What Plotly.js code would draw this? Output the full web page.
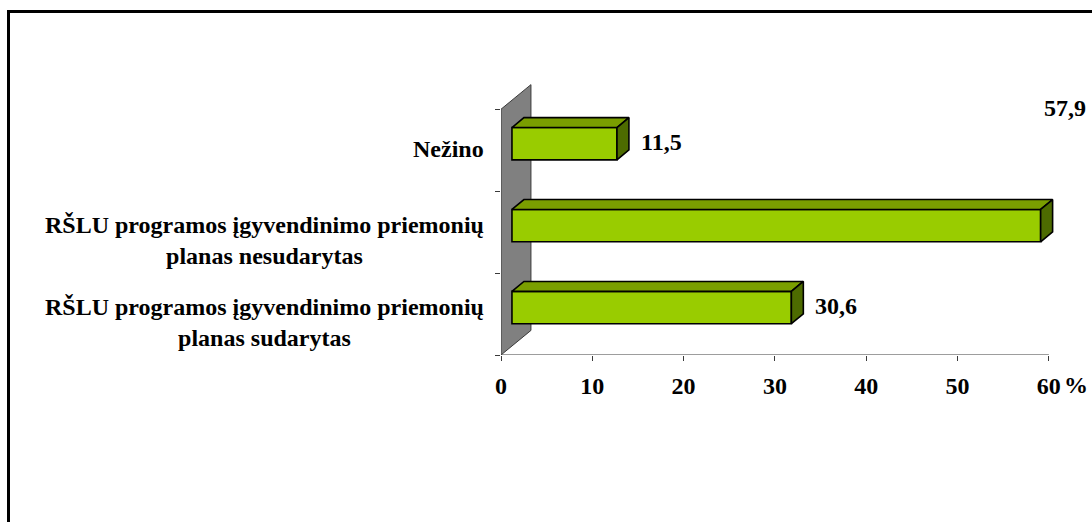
<!DOCTYPE html>
<html>
<head>
<meta charset="utf-8">
<script src="https://cdn.plot.ly/plotly-3.0.1.min.js"></script>
<style>
  html, body { margin: 0; padding: 0; overflow: hidden; background: #fff; }
  #chart { width: 1092px; height: 522px; }
  #frame { position: absolute; left: 7px; top: 10px; width: 2000px; height: 2000px;
           border-left: 3px solid #000; border-top: 3px solid #000; pointer-events: none; }
</style>
</head>
<body>
<div id="chart"></div>
<div id="frame"></div>
<script>
// ---- data ----
const categories = [
  'RŠLU programos įgyvendinimo priemonių<br>planas sudarytas',
  'RŠLU programos įgyvendinimo priemonių<br>planas nesudarytas',
  'Nežino'
];
const values = [30.6, 57.9, 11.5];
const xTickValues = [0, 10, 20, 30, 40, 50, 60];
const xTickLabels = ['0', '10', '20', '30', '40', '50', '60'];
const unitLabel = '%';

// ---- 3D look (in axis units) ----
const WALL_DX = 3.28, WALL_DY = 0.30;
const FRONT_DX = 1.2, FRONT_DY = 0.079, BAR_H = 0.395;
const DEPTH_DX = 1.31, DEPTH_DY = 0.121;
const X_MAX = 61;

const FONT = 'Liberation Serif, Times New Roman, serif';
const FS = 24;
const FRONT_COL = '#99CC00', TOP_COL = '#7A9E00', SIDE_COL = '#4D6B00';

const idx = values.map((v, i) => i);
const traces = [];

traces.push({
  type: 'bar', orientation: 'h',
  x: values, base: FRONT_DX,
  y: idx.map(i => i + FRONT_DY),
  width: BAR_H,
  marker: { color: FRONT_COL, line: { color: '#000', width: 1.6 } },
  hoverinfo: 'skip', showlegend: false
});

idx.forEach(i => {
  const v = values[i];
  const yT = i + FRONT_DY + BAR_H / 2, yB = i + FRONT_DY - BAR_H / 2;
  const x0 = FRONT_DX, x1 = FRONT_DX + v;
  traces.push({
    type: 'scatter', mode: 'lines', fill: 'toself', fillcolor: TOP_COL,
    x: [x0, x1, x1 + DEPTH_DX, x0 + DEPTH_DX, x0],
    y: [yT, yT, yT + DEPTH_DY, yT + DEPTH_DY, yT],
    line: { color: '#000', width: 1.6 }, hoverinfo: 'skip', showlegend: false
  });
  traces.push({
    type: 'scatter', mode: 'lines', fill: 'toself', fillcolor: SIDE_COL,
    x: [x1, x1, x1 + DEPTH_DX, x1 + DEPTH_DX, x1],
    y: [yB, yT, yT + DEPTH_DY, yB + DEPTH_DY, yB],
    line: { color: '#000', width: 1.6 }, hoverinfo: 'skip', showlegend: false
  });
});

const fmt = v => v.toFixed(1).replace('.', ',');
const annotations = [];
const tfont = { family: FONT, size: FS, weight: 'bold', color: '#000' };

// category labels
categories.forEach((c, i) => {
  const twoLine = c.indexOf('<br>') >= 0;
  annotations.push({
    xref: 'paper', x: 0, xanchor: 'right', xshift: -15,
    yref: 'y', y: twoLine ? i - 0.1 : i + 0.01, yanchor: 'middle',
    text: c, align: 'center', showarrow: false, font: tfont
  });
});

// value labels (a label that would run past the chart edge is lifted to the top-right corner)
values.forEach((v, i) => {
  const xe = FRONT_DX + v + DEPTH_DX;
  const overflow = xe + 5 > X_MAX;
  if (overflow) {
    annotations.push({
      xref: 'paper', x: 1, xanchor: 'right', xshift: 30,
      yref: 'y', y: 2.52, yanchor: 'middle',
      text: fmt(v), showarrow: false, font: tfont
    });
  } else {
    annotations.push({
      xref: 'x', x: xe, xanchor: 'left', xshift: 10,
      yref: 'y', y: i + 0.1, yanchor: 'middle',
      text: fmt(v), showarrow: false, font: tfont
    });
  }
});

// unit label next to last tick
annotations.push({
  xref: 'x', x: xTickValues[xTickValues.length - 1], xanchor: 'left', xshift: 13,
  yref: 'paper', y: 0, yanchor: 'middle', yshift: -30,
  text: unitLabel, showarrow: false, font: tfont
});

const shapes = [
  { type: 'path', xref: 'x', yref: 'y', layer: 'below',
    path: `M0,-0.5 L0,2.5 L${WALL_DX},${2.5 + WALL_DY} L${WALL_DX},${-0.5 + WALL_DY} Z`,
    fillcolor: '#808080', line: { color: '#3a3a3a', width: 1 } },
  { type: 'line', xref: 'x', yref: 'y', layer: 'below',
    x0: 0, x1: xTickValues[xTickValues.length - 1], y0: -0.5, y1: -0.5,
    line: { color: '#3a3a3a', width: 1 } }
];

const layout = {
  width: 1092, height: 522,
  margin: { l: 501, r: 34, t: 83, b: 167, pad: 0 },
  paper_bgcolor: '#fff', plot_bgcolor: 'rgba(0,0,0,0)',
  showlegend: false,
  xaxis: {
    range: [0, X_MAX], showgrid: false, zeroline: false, showline: false,
    tickvals: xTickValues, ticktext: xTickLabels,
    ticks: 'outside', ticklen: 5, tickcolor: '#3a3a3a', tickwidth: 1,
    ticklabelstandoff: 4,
    tickfont: tfont,
    fixedrange: true
  },
  yaxis: {
    range: [-0.5, 2.82], showgrid: false, zeroline: false, showline: false,
    tickvals: [-0.5, 0.5, 1.5, 2.5], showticklabels: false,
    ticks: 'outside', ticklen: 5, tickcolor: '#3a3a3a', tickwidth: 1,
    fixedrange: true
  },
  shapes: shapes,
  annotations: annotations,
  bargap: 0
};

Plotly.newPlot('chart', traces, layout, { staticPlot: true, displayModeBar: false });
</script>
</body>
</html>
